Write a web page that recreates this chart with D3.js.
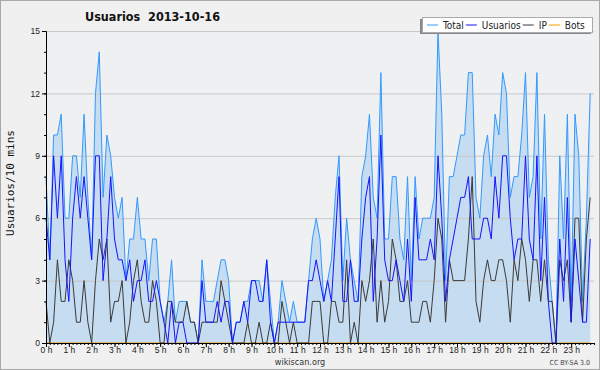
<!DOCTYPE html>
<html>
<head>
<meta charset="utf-8">
<script src="https://cdn.jsdelivr.net/npm/d3@7"></script>
<style>
  body { margin: 0; background: #f0f0f0; }
  svg { display: block; font-family: "DejaVu Sans Condensed", "DejaVu Sans", sans-serif; }
  .grid line { stroke: #c8c8c8; }
  .grid path { display: none; }
  .line { fill: none; stroke-width: 1; }
</style>
</head>
<body>
<script>
// one value every 10 minutes, 0:00 .. 23:50
const total = [8,4,10,10,11,6,6,9,9,7, 11,7,4,12,14,7,10,9,7,6, 7,3,5,5,7,5,5,3,5,5, 2,1,2,4,1,2,2,2,1,1,
  0,4,2,2,2,3,4,4,3,0, 1,1,2,2,3,3,3,2,4,2, 0,1,3,2,1,2,1,1,1,3, 5,6,5,2,3,4,7,9,3,6,
  4,3,2,8,9,11,7,6,13,5, 5,8,8,5,4,8,3,8,5,6, 6,6,7,15,11,3,8,8,9,10, 10,13,13,7,6,9,10,8,11,10,
  13,12,7,8,8,10,13,7,8,13, 5,11,4,2,0,9,5,11,2,11, 9,2,6,12];
const usuarios = [6,4,9,6,9,4,2,6,8,6, 8,6,4,9,9,3,5,8,5,4, 4,3,4,2,3,3,4,2,2,3, 2,1,0,2,0,1,1,0,0,0,
  0,3,1,1,1,2,1,2,2,0, 1,1,2,1,3,3,2,2,4,1, 0,1,1,1,1,1,1,1,1,3, 3,4,3,2,3,2,5,8,2,2,
  4,2,2,5,7,8,2,5,10,4, 3,3,4,3,2,5,2,7,4,4, 4,5,4,9,6,2,4,5,6,7, 7,8,5,5,5,6,6,5,8,6,
  9,9,6,4,5,5,9,5,4,9, 3,7,2,0,0,5,2,7,1,5, 3,1,1,5];
const ip = [2,0,1,4,2,2,4,3,1,1, 3,1,0,3,5,4,5,1,2,2, 3,0,1,3,4,2,1,1,3,2, 0,0,2,2,1,1,1,2,1,1,
  0,1,1,1,1,1,3,2,1,0, 0,0,0,1,0,0,1,0,0,1, 0,0,2,1,0,1,0,0,0,0, 2,2,2,0,0,2,2,1,1,4,
  0,1,0,3,2,3,5,1,3,1, 2,5,4,2,2,3,1,1,1,2, 2,1,3,6,5,1,4,3,3,3, 3,5,8,2,1,3,4,3,3,4,
  4,3,1,4,3,5,4,2,4,4, 2,4,2,2,0,4,3,4,1,6, 6,1,5,7];
const bots = [0,0,0,0,0,0,0,0,0,0, 0,0,0,0,0,0,0,0,0,0, 0,0,0,0,0,0,0,0,0,0, 0,0,0,0,0,0,0,0,0,0,
  0,0,0,0,0,0,0,0,0,0, 0,0,0,0,0,0,0,0,0,0, 0,0,0,0,0,0,0,0,0,0, 0,0,0,0,0,0,0,0,0,0,
  0,0,0,0,0,0,0,0,0,0, 0,0,0,0,0,0,0,0,0,0, 0,0,0,0,0,0,0,0,0,0, 0,0,0,0,0,0,0,0,0,0,
  0,0,0,0,0,0,0,0,0,0, 0,0,0,0,0,0,0,0,0,0, 0,0,0,0];
const hourLabels = ["0 h","1 h","2 h","3 h","4 h","5 h","6 h","7 h","8 h","9 h","10 h","11 h",
  "12 h","13 h","14 h","15 h","16 h","17 h","18 h","19 h","20 h","21 h","22 h","23 h"];
const yTicks = [0, 3, 6, 9, 12, 15];
const seriesNames = ["Total", "Usuarios", "IP", "Bots"];
const seriesColors = ["#3399ff", "#1414ff", "#3a3a3a", "#ff9900"];

let W = 600, H = 370;
let margin = {top: 31, right: 6, bottom: 27, left: 46};
let width = W - margin.left - margin.right;
let height = H - margin.top - margin.bottom;

let svg = d3.select("body").append("svg")
  .attr("width", W)
  .attr("height", H);

// outer frame
svg.append("rect")
  .attr("x", 0.5).attr("y", 0.5)
  .attr("width", W - 1).attr("height", H - 1)
  .attr("fill", "#f0f0f0")
  .attr("stroke", "#a8a8a8");

let g = svg.append("g")
  .attr("transform", "translate(" + margin.left + "," + margin.top + ")");

let xScale = d3.scaleLinear()
  .domain([0, 144])
  .range([0, width]);
let yScale = d3.scaleLinear()
  .domain([0, 15])
  .range([height, 0]);

g.append("rect")
  .attr("width", width)
  .attr("height", height)
  .attr("fill", "#eef0f2");

// total area
let area = d3.area()
  .x(function(d, i) { return xScale(i); })
  .y0(yScale(0))
  .y1(function(d) { return yScale(d); });

g.append("path")
  .datum(total)
  .attr("fill", "#c6dcf0")
  .attr("d", area);

// horizontal gridlines
g.append("g")
  .attr("class", "grid")
  .call(d3.axisLeft(yScale)
    .tickValues(yTicks.slice(1))
    .tickSize(-width)
    .tickFormat(""));

let line = d3.line()
  .x(function(d, i) { return xScale(i); })
  .y(function(d) { return yScale(d); });

[bots, total, ip, usuarios].forEach(function(s) {
  let k = [total, usuarios, ip, bots].indexOf(s);
  g.append("path")
    .datum(s)
    .attr("class", "line")
    .attr("stroke", seriesColors[k])
    .attr("d", line);
});

function styleAxis(a) {
  a.attr("color", "#000");
  a.selectAll("text").attr("fill", "#222").attr("font-size", "8.5px");
}

// y axis: minor + major ticks
g.append("g")
  .call(d3.axisLeft(yScale).tickValues(d3.range(0, 16)).tickSize(2).tickFormat(""))
  .call(styleAxis);
g.append("g")
  .call(d3.axisLeft(yScale).tickValues(yTicks).tickSize(4).tickPadding(2))
  .call(styleAxis)
  .call(function(a) { a.select(".domain").remove(); });

// x axis: a tick every 10 minutes, labels each hour
g.append("g")
  .attr("transform", "translate(0," + height + ")")
  .call(d3.axisBottom(xScale).tickValues(d3.range(0, 145)).tickSize(2).tickFormat(""))
  .call(styleAxis);
g.append("g")
  .attr("transform", "translate(0," + height + ")")
  .call(d3.axisBottom(xScale)
    .tickValues(d3.range(0, 24).map(function(h) { return h * 6; }))
    .tickSize(4)
    .tickPadding(0)
    .tickFormat(function(d) { return hourLabels[d / 6]; }))
  .call(styleAxis)
  .call(function(a) { a.select(".domain").remove(); });

// titles
svg.append("text")
  .attr("x", 85)
  .attr("y", 21)
  .attr("font-size", "12.5px")
  .attr("font-weight", "bold")
  .attr("fill", "#111")
  .attr("xml:space", "preserve")
  .text("Usuarios  2013-10-16");

svg.append("text")
  .attr("transform", "translate(14,183) rotate(-90)")
  .attr("text-anchor", "middle")
  .attr("font-family", "DejaVu Sans Mono, monospace")
  .attr("font-size", "11px")
  .attr("fill", "#111")
  .text("Usuarios/10 mins");

svg.append("text")
  .attr("x", 300)
  .attr("y", 365)
  .attr("text-anchor", "middle")
  .attr("font-size", "9px")
  .attr("fill", "#333")
  .text("wikiscan.org");

svg.append("text")
  .attr("x", 590)
  .attr("y", 365)
  .attr("text-anchor", "end")
  .attr("font-size", "7px")
  .attr("fill", "#444")
  .text("CC BY-SA 3.0");

// legend
let lg = svg.append("g").attr("transform", "translate(422,17)");
lg.append("rect")
  .attr("x", -2).attr("y", 2)
  .attr("width", 171).attr("height", 15)
  .attr("fill", "#888");
lg.append("rect")
  .attr("x", 0.5).attr("y", 0.5)
  .attr("width", 170).attr("height", 15)
  .attr("fill", "#fff")
  .attr("stroke", "#aaa");

let lx = 5;
seriesNames.forEach(function(name, k) {
  lg.append("line")
    .attr("x1", lx).attr("x2", lx + 11)
    .attr("y1", 8).attr("y2", 8)
    .attr("stroke", seriesColors[k]);
  let t = lg.append("text")
    .attr("x", lx + 16)
    .attr("y", 11.5)
    .attr("font-size", "10px")
    .attr("fill", "#222")
    .text(name);
  lx += 16 + t.node().getComputedTextLength() + 2;
});
</script>
</body>
</html>
